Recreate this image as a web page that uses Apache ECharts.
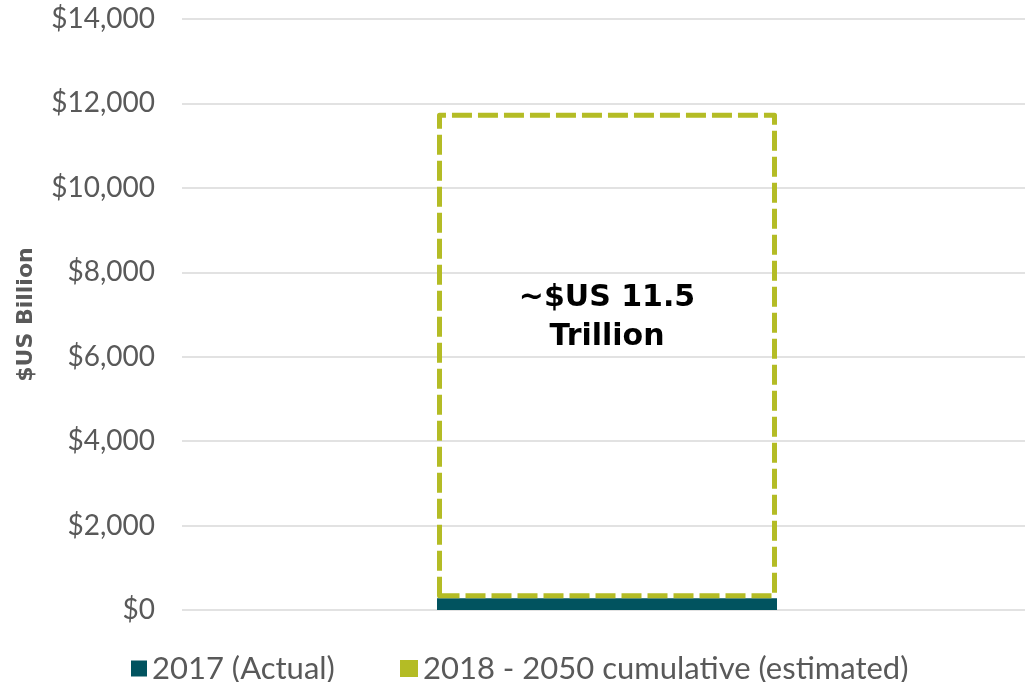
<!DOCTYPE html>
<html>
<head>
<meta charset="utf-8">
<script src="https://cdn.jsdelivr.net/npm/echarts@6/dist/echarts.min.js"></script>
<style>
  html, body { margin: 0; padding: 0; background: #ffffff; }
  #chart { width: 1025px; height: 682px; }
</style>
</head>
<body>
<div id="chart"></div>
<script>
// Investment in $US billion
const categories = ['Investment'];
const actual2017 = [280];
const cumulative2018to2050 = [11500];
const yTicks = [0, 2000, 4000, 6000, 8000, 10000, 12000, 14000];

const seriesNames = ['2017 (Actual)', '2018 - 2050 cumulative (estimated)'];

const chart = echarts.init(document.getElementById('chart'), null, { renderer: 'canvas' });

const labelFont = 'Lato, "Liberation Sans", sans-serif';
const grey = '#595959';

chart.setOption({
  animation: false,
  backgroundColor: '#ffffff',
  grid: {
    left: 182, width: 850, top: 19, bottom: 72,
    containLabel: false, outerBoundsMode: 'none'
  },
  legend: [
    {
      data: [seriesNames[0]],
      left: 126, top: 648,
      icon: 'rect',
      itemWidth: 16, itemHeight: 16, itemGap: 0,
      textStyle: { fontFamily: labelFont, fontSize: 31, color: grey }
    },
    {
      data: [seriesNames[1]],
      left: 395, top: 648,
      icon: 'rect',
      itemWidth: 18, itemHeight: 17, itemGap: 0,
      itemStyle: { color: '#b4bc25', borderWidth: 0 },
      textStyle: { fontFamily: labelFont, fontSize: 31, color: grey }
    }
  ],
  xAxis: {
    type: 'category',
    data: categories,
    axisLine: { show: false },
    axisTick: { show: false },
    axisLabel: { show: false }
  },
  yAxis: {
    type: 'value',
    min: yTicks[0],
    max: yTicks[yTicks.length - 1],
    interval: yTicks[1] - yTicks[0],
    name: '$US Billion',
    nameLocation: 'middle',
    nameGap: 145,
    nameRotate: 90,
    nameTextStyle: {
      fontFamily: '"DejaVu Sans", sans-serif',
      fontWeight: 'bold', fontSize: 22, color: grey
    },
    axisLine: { show: false },
    axisTick: { show: false },
    axisLabel: {
      margin: 27,
      fontFamily: labelFont, fontSize: 28, color: grey,
      formatter: v => '$' + v.toLocaleString('en-US')
    },
    splitLine: { lineStyle: { color: '#d9d9d9', width: 1.5 } }
  },
  series: [
    {
      name: seriesNames[0],
      type: 'bar',
      stack: 'total',
      barWidth: '40%',
      data: actual2017,
      itemStyle: { color: '#01535f' }
    },
    {
      name: seriesNames[1],
      type: 'bar',
      stack: 'total',
      data: cumulative2018to2050,
      itemStyle: {
        color: 'rgba(255,255,255,0)',
        borderColor: '#b4bc25',
        borderWidth: 5,
        borderType: [20, 6],
        borderJoin: 'round',
        borderCap: 'butt'
      },
      label: {
        show: true,
        position: 'inside',
        offset: [0, -38],
        fontFamily: '"DejaVu Sans", sans-serif',
        fontWeight: 'bold',
        fontSize: 30,
        lineHeight: 39,
        color: '#000000',
        align: 'center',
        formatter: p => '~$US ' + (p.value / 1000) + '\nTrillion'
      }
    }
  ]
});
</script>
</body>
</html>
